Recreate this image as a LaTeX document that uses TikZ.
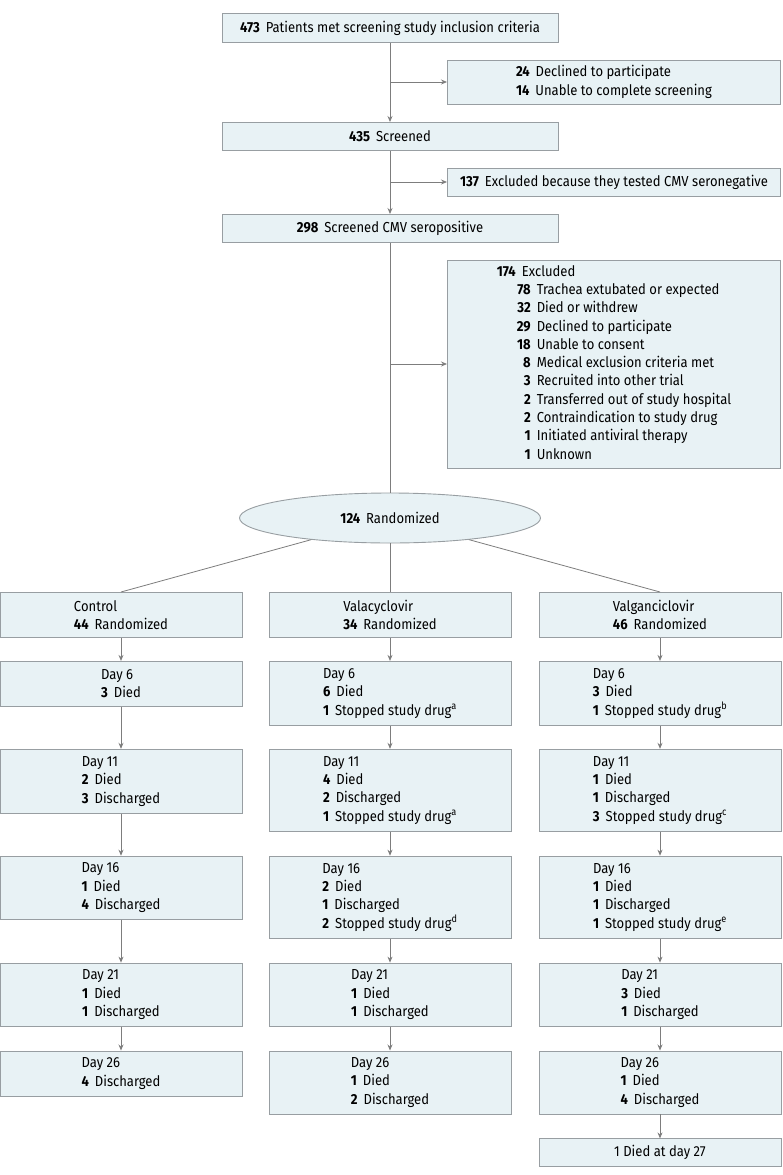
\documentclass[tikz,border=0pt]{standalone}
\usepackage{fontspec}
\setmainfont{Fira Sans}[FakeStretch=0.9]
\usetikzlibrary{positioning,shapes.geometric,arrows.meta}
\definecolor{cbox}{RGB}{232,242,245}
\definecolor{cline}{RGB}{152,158,162}
\definecolor{carrow}{RGB}{125,125,125}
\newcommand{\cnt}[1]{\textbf{#1}\hspace{2.5pt}}

\begin{document}
\begin{tikzpicture}[x=1pt,y=-1pt,
    font=\fontsize{14.5}{18.3}\selectfont,
    box/.style={rectangle, draw=cline, fill=cbox, line width=0.9pt, align=left, inner xsep=4pt, inner ysep=3pt},
    wide/.style={box, anchor=north, minimum width=336pt, minimum height=28pt},
    side/.style={box, anchor=west, minimum width=333pt},
    arm/.style={box, anchor=north, minimum width=242pt},
    flow/.style={-{Stealth[length=6pt,width=5pt]}, carrow, line width=0.8pt},
    link/.style={carrow, line width=0.8pt}]
    \useasboundingbox (0,0) rectangle (783,1175);

    % screening
    \node[wide, minimum height=29pt] (Met) at (390,13) {\cnt{473} Patients met screening study inclusion criteria};
    \node[side, minimum height=44pt] (Declined) at (447,82) {\cnt{24} Declined to participate\\\cnt{14} Unable to complete screening};
    \node[wide] (Screened) at (390,122) {\cnt{435} Screened};
    \node[side, minimum height=28pt] (Negative) at (447,182) {\cnt{137} Excluded because they tested CMV seronegative};
    \node[wide] (Positive) at (390,214) {\cnt{298} Screened CMV seropositive};
    \node[side, minimum height=208pt] (Excluded) at (447,364) {%
      \begin{tabular}{@{\hspace{20pt}}r@{\hspace{6pt}}l@{}}
        \multicolumn{2}{@{}l@{}}{\cnt{174} Excluded}\\
        \textbf{78} & Trachea extubated or expected\\
        \textbf{32} & Died or withdrew\\
        \textbf{29} & Declined to participate\\
        \textbf{18} & Unable to consent\\
        \textbf{8} & Medical exclusion criteria met\\
        \textbf{3} & Recruited into other trial\\
        \textbf{2} & Transferred out of study hospital\\
        \textbf{2} & Contraindication to study drug\\
        \textbf{1} & Initiated antiviral therapy\\
        \textbf{1} & Unknown
      \end{tabular}};
    \node[ellipse, draw=cline, fill=cbox, line width=0.9pt, minimum width=301pt, minimum height=50pt] (Randomized) at (390,518) {\cnt{124} Randomized};

    \coordinate (SplitA) at (Met.south |- Declined.west);
    \coordinate (SplitB) at (Met.south |- Negative.west);
    \coordinate (SplitC) at (Met.south |- Excluded.west);
    \draw[flow] (Met) -- (Screened);
    \draw[flow] (SplitA) -- (Declined);
    \draw[flow] (Screened) -- (Positive);
    \draw[flow] (SplitB) -- (Negative);
    \draw[link] (Positive) -- (Randomized);
    \draw[flow] (SplitC) -- (Excluded);

    % arms
    \node[arm, minimum height=45pt] (Control) at (121,592) {Control\\\cnt{44} Randomized};
    \node[arm, minimum height=45pt] (Vala) at (390,592) {Valacyclovir\\\cnt{34} Randomized};
    \node[arm, minimum height=45pt] (Valg) at (660,592) {Valganciclovir\\\cnt{46} Randomized};
    \draw[link] (Randomized) -- (Control.north);
    \draw[link] (Randomized) -- (Vala.north);
    \draw[link] (Randomized) -- (Valg.north);

    % valacyclovir
    \node[arm, minimum height=64pt] (ValaSix) [below=23pt of Vala] {Day 6\\\cnt{6} Died\\\cnt{1} Stopped study drug\textsuperscript{a}};
    \node[arm, minimum height=82pt] (ValaEleven) [below=23pt of ValaSix] {Day 11\\\cnt{4} Died\\\cnt{2} Discharged\\\cnt{1} Stopped study drug\textsuperscript{a}};
    \node[arm, minimum height=82pt] (ValaSixteen) [below=24pt of ValaEleven] {Day 16\\\cnt{2} Died\\\cnt{1} Discharged\\\cnt{2} Stopped study drug\textsuperscript{d}};
    \node[arm, minimum height=63pt] (ValaTwentyOne) [below=24pt of ValaSixteen] {Day 21\\\cnt{1} Died\\\cnt{1} Discharged};
    \node[arm, minimum height=63pt] (ValaTwentySix) [below=24pt of ValaTwentyOne] {Day 26\\\cnt{1} Died\\\cnt{2} Discharged};

    % valganciclovir
    \node[arm, minimum height=64pt] (ValgSix) [below=23pt of Valg] {Day 6\\\cnt{3} Died\\\cnt{1} Stopped study drug\textsuperscript{b}};
    \node[arm, minimum height=82pt] (ValgEleven) [below=23pt of ValgSix] {Day 11\\\cnt{1} Died\\\cnt{1} Discharged\\\cnt{3} Stopped study drug\textsuperscript{c}};
    \node[arm, minimum height=82pt] (ValgSixteen) [below=24pt of ValgEleven] {Day 16\\\cnt{1} Died\\\cnt{1} Discharged\\\cnt{1} Stopped study drug\textsuperscript{e}};
    \node[arm, minimum height=63pt] (ValgTwentyOne) [below=24pt of ValgSixteen] {Day 21\\\cnt{3} Died\\\cnt{1} Discharged};
    \node[arm, minimum height=63pt] (ValgTwentySix) [below=24pt of ValgTwentyOne] {Day 26\\\cnt{1} Died\\\cnt{4} Discharged};
    \node[arm, minimum height=28pt] (ValgTwentySeven) [below=24pt of ValgTwentySix] {1 Died at day 27};

    % control
    \node[arm, minimum height=45pt] (ControlSix) at (Control.north |- ValaSix.north) {Day 6\\\cnt{3} Died};
    \node[arm, minimum height=64pt] (ControlEleven) at (Control.north |- ValaEleven.north) {Day 11\\\cnt{2} Died\\\cnt{3} Discharged};
    \node[arm, minimum height=63pt] (ControlSixteen) at (Control.north |- ValaSixteen.north) {Day 16\\\cnt{1} Died\\\cnt{4} Discharged};
    \node[arm, minimum height=63pt] (ControlTwentyOne) at (Control.north |- ValaTwentyOne.north) {Day 21\\\cnt{1} Died\\\cnt{1} Discharged};
    \node[arm, minimum height=45pt] (ControlTwentySix) at (Control.north |- ValaTwentySix.north) {Day 26\\\cnt{4} Discharged};

    \foreach \arm in {Control,Vala,Valg}{
      \draw[flow] (\arm) -- (\arm Six);
      \draw[flow] (\arm Six) -- (\arm Eleven);
      \draw[flow] (\arm Eleven) -- (\arm Sixteen);
      \draw[flow] (\arm Sixteen) -- (\arm TwentyOne);
      \draw[flow] (\arm TwentyOne) -- (\arm TwentySix);
    }
    \draw[flow] (ValgTwentySix) -- (ValgTwentySeven);
  \end{tikzpicture}
\end{document}
